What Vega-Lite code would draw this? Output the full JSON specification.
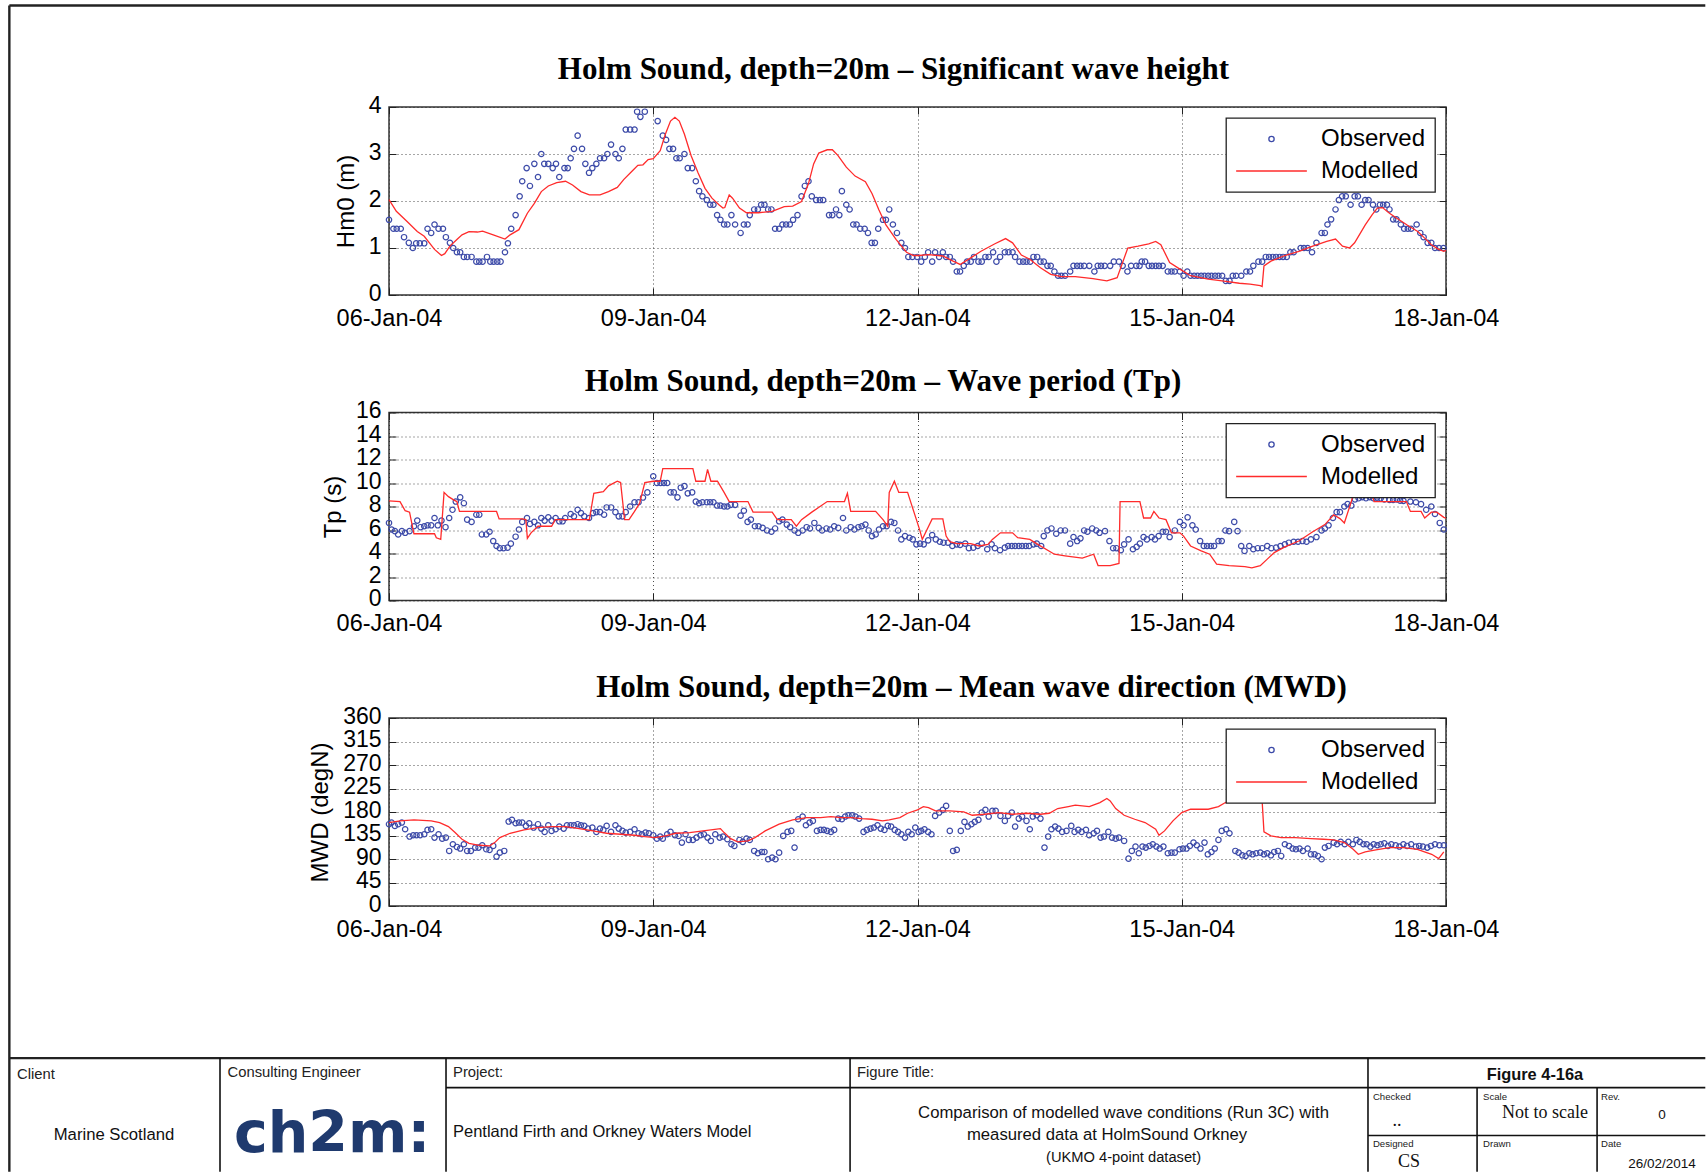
{
"$schema":"https://vega.github.io/schema/vega-lite/v6.json",
"padding":{"left":8,"top":4,"right":0,"bottom":0},
"background":"white",
"config":{
 "view":{"stroke":"#333","strokeWidth":1.5},
 "title":{"font":"Liberation Serif","fontSize":31,"fontWeight":"bold","color":"#000","anchor":"middle","frame":"group","baseline":"alphabetic"},
 "axis":{"labelFont":"Liberation Sans","labelFontSize":23,"labelColor":"#000","titleFont":"Liberation Sans","titleFontSize":24,"titleFontWeight":"normal","titleColor":"#000","domain":false,"tickColor":"#222","tickSize":-7,"gridColor":"#222","gridDash":[1,3],"gridOpacity":0.8,"gridWidth":1,"labelFlush":false,"labelOverlap":false},
 "axisX":{"labelFontSize":23.5},
 "axisY":{"labelOffset":-2},
 "legend":{"orient":"top-right","offset":11,"fillColor":"white","strokeColor":"#222","strokeWidth":1.3,"padding":9,"labelFont":"Liberation Sans","labelFontSize":24,"labelColor":"#000","symbolSize":5000,"clipHeight":24,"rowPadding":8,"labelOffset":13,"symbolStrokeWidth":1.3,"cornerRadius":0}
},
"datasets":{
"obsHs":[{"h":0,"v":1.6},{"h":1.2,"v":1.41},{"h":2.1,"v":1.41},{"h":3.2,"v":1.41},{"h":4.1,"v":1.23},{"h":5.4,"v":1.11},{"h":6.5,"v":1.0},{"h":7.4,"v":1.1},{"h":8.4,"v":1.1},{"h":9.6,"v":1.1},{"h":10.5,"v":1.41},{"h":11.5,"v":1.32},{"h":12.4,"v":1.5},{"h":13.5,"v":1.41},{"h":14.7,"v":1.41},{"h":15.5,"v":1.23},{"h":16.6,"v":1.11},{"h":17.5,"v":1.0},{"h":18.5,"v":0.91},{"h":19.4,"v":0.91},{"h":20.4,"v":0.81},{"h":21.3,"v":0.81},{"h":22.5,"v":0.81},{"h":23.8,"v":0.71},{"h":24.6,"v":0.71},{"h":25.5,"v":0.71},{"h":26.7,"v":0.81},{"h":27.6,"v":0.71},{"h":28.5,"v":0.71},{"h":29.5,"v":0.71},{"h":30.4,"v":0.71},{"h":31.6,"v":0.91},{"h":32.4,"v":1.1},{"h":33.3,"v":1.41},{"h":34.5,"v":1.7},{"h":35.6,"v":2.1},{"h":36.3,"v":2.42},{"h":37.5,"v":2.7},{"h":38.4,"v":2.32},{"h":39.6,"v":2.79},{"h":40.6,"v":2.51},{"h":41.5,"v":3.0},{"h":42.3,"v":2.79},{"h":43.4,"v":2.79},{"h":44.6,"v":2.7},{"h":45.5,"v":2.79},{"h":46.4,"v":2.51},{"h":47.8,"v":2.7},{"h":48.7,"v":2.7},{"h":49.5,"v":2.91},{"h":50.4,"v":3.11},{"h":51.4,"v":3.39},{"h":52.6,"v":3.11},{"h":53.5,"v":2.79},{"h":54.5,"v":2.6},{"h":55.4,"v":2.7},{"h":56.5,"v":2.79},{"h":57.5,"v":2.91},{"h":58.6,"v":2.91},{"h":59.5,"v":3.0},{"h":60.5,"v":3.2},{"h":61.7,"v":3.0},{"h":62.6,"v":2.91},{"h":63.6,"v":3.11},{"h":64.5,"v":3.52},{"h":65.7,"v":3.52},{"h":66.9,"v":3.52},{"h":67.6,"v":3.9},{"h":68.5,"v":3.79},{"h":69.7,"v":3.9},{"h":73.2,"v":3.7},{"h":74.6,"v":3.39},{"h":75.5,"v":3.3},{"h":76.4,"v":3.11},{"h":77.4,"v":3.11},{"h":78.3,"v":2.91},{"h":79.2,"v":2.91},{"h":80.5,"v":3.0},{"h":81.4,"v":2.7},{"h":82.6,"v":2.7},{"h":83.6,"v":2.42},{"h":84.5,"v":2.21},{"h":85.4,"v":2.1},{"h":86.6,"v":2.02},{"h":87.5,"v":1.92},{"h":88.4,"v":1.92},{"h":89.4,"v":1.7},{"h":90.3,"v":1.6},{"h":91.3,"v":1.5},{"h":92.2,"v":1.5},{"h":93.3,"v":1.7},{"h":94.3,"v":1.5},{"h":95.8,"v":1.32},{"h":96.7,"v":1.5},{"h":97.7,"v":1.5},{"h":98.3,"v":1.7},{"h":99.5,"v":1.82},{"h":100.5,"v":1.82},{"h":101.4,"v":1.92},{"h":102.3,"v":1.92},{"h":103.3,"v":1.82},{"h":104.2,"v":1.82},{"h":105.2,"v":1.41},{"h":106.3,"v":1.41},{"h":107.2,"v":1.5},{"h":108.2,"v":1.5},{"h":109.2,"v":1.5},{"h":110.1,"v":1.6},{"h":111.3,"v":1.7},{"h":112.4,"v":2.1},{"h":113.3,"v":2.32},{"h":114.3,"v":2.42},{"h":115.2,"v":2.1},{"h":116.4,"v":2.02},{"h":117.4,"v":2.02},{"h":118.3,"v":2.02},{"h":119.9,"v":1.7},{"h":120.8,"v":1.7},{"h":121.8,"v":1.82},{"h":122.7,"v":1.7},{"h":123.4,"v":2.21},{"h":124.6,"v":1.92},{"h":125.5,"v":1.82},{"h":126.5,"v":1.5},{"h":127.4,"v":1.5},{"h":128.4,"v":1.41},{"h":129.6,"v":1.41},{"h":130.5,"v":1.32},{"h":131.5,"v":1.11},{"h":132.4,"v":1.11},{"h":133.3,"v":1.41},{"h":134.6,"v":1.6},{"h":135.4,"v":1.6},{"h":136.3,"v":1.82},{"h":137.3,"v":1.5},{"h":138.4,"v":1.32},{"h":139.6,"v":1.11},{"h":140.6,"v":1.0},{"h":141.5,"v":0.81},{"h":142.6,"v":0.81},{"h":143.9,"v":0.81},{"h":145,"v":0.71},{"h":146,"v":0.81},{"h":146.9,"v":0.91},{"h":148,"v":0.71},{"h":148.8,"v":0.91},{"h":149.9,"v":0.81},{"h":150.9,"v":0.91},{"h":151.8,"v":0.81},{"h":152.8,"v":0.81},{"h":153.7,"v":0.71},{"h":154.7,"v":0.5},{"h":155.6,"v":0.5},{"h":156.6,"v":0.62},{"h":157.5,"v":0.71},{"h":158.5,"v":0.71},{"h":159.4,"v":0.81},{"h":160.6,"v":0.71},{"h":161.5,"v":0.71},{"h":162.5,"v":0.81},{"h":163.4,"v":0.81},{"h":164.6,"v":0.91},{"h":165.5,"v":0.71},{"h":166.5,"v":0.81},{"h":167.8,"v":0.91},{"h":168.8,"v":0.91},{"h":169.9,"v":0.91},{"h":170.6,"v":0.81},{"h":171.8,"v":0.71},{"h":172.8,"v":0.71},{"h":173.7,"v":0.71},{"h":174.7,"v":0.71},{"h":175.6,"v":0.81},{"h":176.6,"v":0.81},{"h":177.5,"v":0.71},{"h":178.4,"v":0.71},{"h":179.4,"v":0.62},{"h":180.3,"v":0.62},{"h":181.3,"v":0.5},{"h":182.3,"v":0.41},{"h":183.2,"v":0.41},{"h":184.2,"v":0.41},{"h":185.6,"v":0.5},{"h":186.5,"v":0.62},{"h":187.5,"v":0.62},{"h":188.4,"v":0.62},{"h":189.4,"v":0.62},{"h":190.8,"v":0.62},{"h":192.2,"v":0.5},{"h":193.1,"v":0.62},{"h":194,"v":0.62},{"h":195,"v":0.62},{"h":196.5,"v":0.62},{"h":197.5,"v":0.71},{"h":198.9,"v":0.71},{"h":199.9,"v":0.62},{"h":201.2,"v":0.5},{"h":202.2,"v":0.62},{"h":203.6,"v":0.62},{"h":204.5,"v":0.62},{"h":205.1,"v":0.71},{"h":206,"v":0.71},{"h":207,"v":0.62},{"h":207.9,"v":0.62},{"h":208.9,"v":0.62},{"h":209.8,"v":0.62},{"h":210.8,"v":0.62},{"h":212.2,"v":0.5},{"h":213.2,"v":0.5},{"h":214.1,"v":0.5},{"h":215.5,"v":0.5},{"h":216.5,"v":0.41},{"h":217.5,"v":0.5},{"h":218.4,"v":0.41},{"h":219.4,"v":0.41},{"h":220.3,"v":0.41},{"h":221.3,"v":0.41},{"h":222.2,"v":0.41},{"h":223.2,"v":0.41},{"h":224.1,"v":0.41},{"h":225.1,"v":0.41},{"h":226,"v":0.41},{"h":227,"v":0.41},{"h":228,"v":0.3},{"h":229,"v":0.3},{"h":229.9,"v":0.41},{"h":230.8,"v":0.41},{"h":232.2,"v":0.41},{"h":233.6,"v":0.5},{"h":234.6,"v":0.5},{"h":235.5,"v":0.62},{"h":236.9,"v":0.71},{"h":237.9,"v":0.71},{"h":238.9,"v":0.81},{"h":239.8,"v":0.81},{"h":240.8,"v":0.81},{"h":241.7,"v":0.81},{"h":242.7,"v":0.81},{"h":243.6,"v":0.81},{"h":244.6,"v":0.81},{"h":245.6,"v":0.91},{"h":246.5,"v":0.91},{"h":248.4,"v":1.0},{"h":249.3,"v":1.0},{"h":250.3,"v":1.0},{"h":251.5,"v":0.91},{"h":252.7,"v":1.11},{"h":254.1,"v":1.32},{"h":255,"v":1.32},{"h":255.7,"v":1.5},{"h":256.7,"v":1.61},{"h":257.9,"v":1.82},{"h":258.8,"v":2.02},{"h":259.7,"v":2.1},{"h":260.7,"v":2.1},{"h":262,"v":1.92},{"h":263.1,"v":2.1},{"h":264,"v":2.1},{"h":265,"v":1.92},{"h":266,"v":2.02},{"h":266.9,"v":2.02},{"h":268.1,"v":1.92},{"h":269,"v":1.82},{"h":270,"v":1.92},{"h":270.9,"v":1.92},{"h":271.9,"v":1.92},{"h":272.6,"v":1.82},{"h":273.6,"v":1.61},{"h":274.5,"v":1.61},{"h":275.7,"v":1.5},{"h":276.6,"v":1.41},{"h":277.6,"v":1.41},{"h":278.5,"v":1.41},{"h":280,"v":1.5},{"h":281,"v":1.32},{"h":281.9,"v":1.23},{"h":283,"v":1.11},{"h":284,"v":1.11},{"h":285,"v":1.0},{"h":286.1,"v":1.0},{"h":287.3,"v":1.0}],
"modHs":[{"h":0,"v":2.03},{"h":2,"v":1.78},{"h":5,"v":1.56},{"h":7.7,"v":1.35},{"h":9.6,"v":1.25},{"h":12.4,"v":0.97},{"h":14.3,"v":0.84},{"h":15.2,"v":0.88},{"h":16.6,"v":1.04},{"h":18.5,"v":1.18},{"h":19.9,"v":1.28},{"h":21.8,"v":1.35},{"h":24.1,"v":1.34},{"h":25.5,"v":1.36},{"h":28.4,"v":1.28},{"h":31.6,"v":1.19},{"h":33,"v":1.28},{"h":35.4,"v":1.39},{"h":37.7,"v":1.74},{"h":39.6,"v":1.95},{"h":41.5,"v":2.2},{"h":43.4,"v":2.32},{"h":45.7,"v":2.39},{"h":48.1,"v":2.42},{"h":50,"v":2.34},{"h":52.3,"v":2.2},{"h":54.6,"v":2.13},{"h":57.5,"v":2.13},{"h":59.8,"v":2.2},{"h":62.2,"v":2.29},{"h":64,"v":2.46},{"h":66.4,"v":2.65},{"h":67.8,"v":2.76},{"h":69.2,"v":2.77},{"h":70.6,"v":2.88},{"h":72,"v":2.9},{"h":73.9,"v":3.07},{"h":75.3,"v":3.42},{"h":76.7,"v":3.7},{"h":77.9,"v":3.78},{"h":79.1,"v":3.7},{"h":80.5,"v":3.42},{"h":82.3,"v":2.97},{"h":84.2,"v":2.6},{"h":86.1,"v":2.27},{"h":88,"v":2.06},{"h":89.9,"v":1.92},{"h":91,"v":1.85},{"h":91.5,"v":1.86},{"h":92.7,"v":2.13},{"h":93.6,"v":2.06},{"h":95.5,"v":1.85},{"h":97.4,"v":1.75},{"h":100.7,"v":1.75},{"h":104.4,"v":1.78},{"h":107.7,"v":1.88},{"h":110,"v":1.89},{"h":112.4,"v":1.99},{"h":114.3,"v":2.37},{"h":115.7,"v":2.79},{"h":117.1,"v":3.02},{"h":119.4,"v":3.09},{"h":120.8,"v":3.09},{"h":122.3,"v":2.97},{"h":124.6,"v":2.72},{"h":127,"v":2.53},{"h":129.8,"v":2.41},{"h":131.6,"v":2.16},{"h":133.5,"v":1.81},{"h":135.4,"v":1.49},{"h":138.2,"v":1.18},{"h":141,"v":0.91},{"h":142.9,"v":0.84},{"h":144.3,"v":0.84},{"h":147,"v":0.86},{"h":150.9,"v":0.83},{"h":153.7,"v":0.72},{"h":155.6,"v":0.65},{"h":158.5,"v":0.79},{"h":161.3,"v":0.93},{"h":165.1,"v":1.09},{"h":168,"v":1.2},{"h":169.9,"v":1.11},{"h":172.3,"v":0.85},{"h":174.6,"v":0.76},{"h":177.5,"v":0.58},{"h":180.3,"v":0.44},{"h":183.2,"v":0.39},{"h":187,"v":0.39},{"h":191.8,"v":0.35},{"h":195.6,"v":0.3},{"h":198.4,"v":0.37},{"h":201.3,"v":1.0},{"h":204.1,"v":1.04},{"h":207,"v":1.09},{"h":208.9,"v":1.14},{"h":210.3,"v":1.07},{"h":212.7,"v":0.69},{"h":215.5,"v":0.55},{"h":218.4,"v":0.41},{"h":223.2,"v":0.34},{"h":227,"v":0.3},{"h":231.7,"v":0.25},{"h":234.6,"v":0.23},{"h":237.4,"v":0.2},{"h":237.9,"v":0.18},{"h":238.4,"v":0.62},{"h":240.3,"v":0.72},{"h":244.1,"v":0.84},{"h":247.9,"v":0.93},{"h":251.7,"v":1.04},{"h":255.5,"v":1.14},{"h":257.9,"v":1.19},{"h":259.8,"v":1.04},{"h":261.7,"v":1.0},{"h":263.1,"v":1.11},{"h":266,"v":1.49},{"h":267.9,"v":1.71},{"h":269.3,"v":1.85},{"h":270.7,"v":1.86},{"h":272.6,"v":1.74},{"h":274.5,"v":1.64},{"h":277.4,"v":1.49},{"h":280.3,"v":1.35},{"h":282.2,"v":1.21},{"h":284,"v":1.07},{"h":286,"v":0.97},{"h":287.4,"v":0.93},{"h":288,"v":0.95}],
"obsTp":[{"h":0,"v":6.6},{"h":0.7,"v":6.04},{"h":1.6,"v":5.9},{"h":2.5,"v":5.62},{"h":3.5,"v":5.9},{"h":4.4,"v":5.76},{"h":5.6,"v":5.9},{"h":6.8,"v":6.32},{"h":7.7,"v":6.8},{"h":8.6,"v":6.24},{"h":9.6,"v":6.32},{"h":10.5,"v":6.4},{"h":11.5,"v":6.4},{"h":12.4,"v":7.02},{"h":13.3,"v":6.4},{"h":14.3,"v":6.8},{"h":15.4,"v":6.24},{"h":16.4,"v":7.02},{"h":17.3,"v":7.72},{"h":18.2,"v":8.42},{"h":19.4,"v":8.78},{"h":20.4,"v":8.28},{"h":21.3,"v":6.88},{"h":22.5,"v":6.69},{"h":23.8,"v":7.3},{"h":24.6,"v":7.3},{"h":25.3,"v":5.62},{"h":26.5,"v":5.62},{"h":27.4,"v":5.85},{"h":28.4,"v":5.06},{"h":29.3,"v":4.64},{"h":30.2,"v":4.45},{"h":31.2,"v":4.45},{"h":32.3,"v":4.5},{"h":33.2,"v":4.84},{"h":34.5,"v":5.43},{"h":35.4,"v":6.04},{"h":36.3,"v":6.69},{"h":37.6,"v":7.02},{"h":38.4,"v":6.52},{"h":39.6,"v":6.69},{"h":40.6,"v":6.4},{"h":41.5,"v":7.02},{"h":42.4,"v":6.8},{"h":43.4,"v":7.08},{"h":44.3,"v":6.8},{"h":45.4,"v":7.02},{"h":46.4,"v":6.74},{"h":47.3,"v":6.74},{"h":48,"v":7.02},{"h":49.5,"v":7.36},{"h":50.4,"v":7.16},{"h":51.4,"v":7.72},{"h":52.3,"v":7.44},{"h":53.2,"v":7.16},{"h":54.5,"v":7.02},{"h":55.6,"v":7.44},{"h":56.5,"v":7.52},{"h":57.5,"v":7.52},{"h":58.6,"v":7.3},{"h":59.3,"v":7.92},{"h":60.5,"v":7.92},{"h":61.7,"v":7.52},{"h":62.6,"v":7.16},{"h":63.6,"v":7.16},{"h":64.5,"v":7.52},{"h":65.7,"v":8.0},{"h":66.9,"v":8.36},{"h":68,"v":8.36},{"h":69.2,"v":8.76},{"h":70.4,"v":9.2},{"h":72,"v":10.57},{"h":73,"v":10.0},{"h":74,"v":10.0},{"h":74.9,"v":10.0},{"h":75.8,"v":10.0},{"h":76.7,"v":9.2},{"h":77.6,"v":9.2},{"h":78.6,"v":8.78},{"h":79.5,"v":9.6},{"h":80.5,"v":9.73},{"h":81.4,"v":9.12},{"h":82.6,"v":9.2},{"h":83.6,"v":8.42},{"h":84.5,"v":8.28},{"h":85.4,"v":8.36},{"h":86.6,"v":8.36},{"h":87.5,"v":8.36},{"h":88.4,"v":8.36},{"h":89.4,"v":8.08},{"h":90.3,"v":8.08},{"h":91.3,"v":8.0},{"h":92.2,"v":8.0},{"h":93.1,"v":8.14},{"h":94.3,"v":8.14},{"h":95.8,"v":7.22},{"h":96.7,"v":7.64},{"h":97.7,"v":6.69},{"h":98.6,"v":6.88},{"h":99.7,"v":6.32},{"h":100.7,"v":6.32},{"h":101.8,"v":6.18},{"h":103,"v":5.96},{"h":104.2,"v":5.85},{"h":105.2,"v":6.13},{"h":106.3,"v":6.74},{"h":107.2,"v":6.88},{"h":108.4,"v":6.46},{"h":109.3,"v":6.24},{"h":110.5,"v":5.96},{"h":111.5,"v":5.76},{"h":112.7,"v":5.96},{"h":113.8,"v":6.24},{"h":114.7,"v":6.13},{"h":115.9,"v":6.6},{"h":117.1,"v":6.18},{"h":118,"v":5.96},{"h":119.2,"v":6.13},{"h":120.2,"v":6.04},{"h":121.3,"v":6.32},{"h":122.4,"v":6.18},{"h":123.7,"v":7.02},{"h":124.6,"v":5.96},{"h":125.8,"v":6.24},{"h":126.8,"v":6.04},{"h":127.9,"v":6.24},{"h":128.8,"v":6.32},{"h":129.8,"v":6.46},{"h":130.7,"v":5.96},{"h":131.6,"v":5.48},{"h":132.6,"v":5.62},{"h":133.5,"v":6.04},{"h":134.6,"v":6.32},{"h":135.6,"v":6.32},{"h":136.8,"v":6.69},{"h":137.7,"v":6.6},{"h":138.7,"v":5.96},{"h":139.6,"v":5.2},{"h":140.6,"v":5.48},{"h":141.8,"v":5.34},{"h":142.7,"v":5.2},{"h":143.7,"v":4.78},{"h":144.7,"v":4.84},{"h":145.7,"v":4.78},{"h":146.9,"v":5.12},{"h":148,"v":5.57},{"h":149,"v":5.2},{"h":150.1,"v":5.0},{"h":151.1,"v":4.92},{"h":152.3,"v":4.92},{"h":153.5,"v":4.64},{"h":154.7,"v":4.78},{"h":155.6,"v":4.73},{"h":157,"v":4.84},{"h":158,"v":4.45},{"h":159.2,"v":4.5},{"h":160.4,"v":4.64},{"h":161.5,"v":4.84},{"h":163,"v":4.36},{"h":164.2,"v":4.78},{"h":165.1,"v":4.45},{"h":166.5,"v":4.28},{"h":167.8,"v":4.5},{"h":168.7,"v":4.64},{"h":169.7,"v":4.64},{"h":170.6,"v":4.64},{"h":171.6,"v":4.64},{"h":172.5,"v":4.64},{"h":173.5,"v":4.64},{"h":174.4,"v":4.64},{"h":175.6,"v":4.78},{"h":176.5,"v":4.84},{"h":177.7,"v":4.64},{"h":178.4,"v":5.48},{"h":179.4,"v":5.96},{"h":180.5,"v":6.13},{"h":181.8,"v":5.68},{"h":183,"v":5.96},{"h":184.2,"v":5.96},{"h":185.6,"v":4.84},{"h":186.5,"v":5.4},{"h":187.5,"v":5.06},{"h":188.4,"v":5.29},{"h":189.4,"v":5.96},{"h":190.3,"v":5.85},{"h":191.6,"v":6.13},{"h":192.7,"v":5.96},{"h":193.6,"v":5.76},{"h":195.1,"v":5.9},{"h":196.3,"v":5.06},{"h":197.3,"v":4.45},{"h":198.2,"v":4.45},{"h":199.4,"v":4.28},{"h":200.3,"v":4.78},{"h":201.5,"v":5.2},{"h":202.7,"v":4.36},{"h":203.7,"v":4.56},{"h":204.6,"v":4.84},{"h":205.6,"v":5.4},{"h":206.5,"v":5.2},{"h":207.8,"v":5.4},{"h":208.7,"v":5.2},{"h":209.7,"v":5.48},{"h":210.8,"v":5.85},{"h":211.7,"v":5.85},{"h":212.7,"v":5.4},{"h":214.1,"v":5.96},{"h":215.5,"v":6.69},{"h":216.5,"v":6.4},{"h":217.6,"v":7.08},{"h":218.9,"v":6.4},{"h":219.8,"v":6.04},{"h":221,"v":5.06},{"h":222,"v":4.64},{"h":222.9,"v":4.64},{"h":223.9,"v":4.64},{"h":224.8,"v":4.64},{"h":226,"v":5.06},{"h":226.9,"v":5.06},{"h":227.9,"v":5.96},{"h":228.9,"v":5.9},{"h":230.3,"v":6.69},{"h":231.2,"v":5.9},{"h":232.2,"v":4.64},{"h":233.1,"v":4.22},{"h":234.4,"v":4.64},{"h":235.5,"v":4.36},{"h":236.7,"v":4.45},{"h":237.9,"v":4.45},{"h":239.3,"v":4.64},{"h":240.4,"v":4.45},{"h":241.7,"v":4.5},{"h":242.9,"v":4.64},{"h":244.1,"v":4.78},{"h":245.2,"v":4.92},{"h":246.5,"v":5.0},{"h":247.7,"v":5.0},{"h":248.9,"v":5.06},{"h":250,"v":5.0},{"h":251.2,"v":5.2},{"h":252.7,"v":5.4},{"h":254.1,"v":5.96},{"h":255,"v":6.13},{"h":256,"v":6.4},{"h":257.2,"v":7.02},{"h":258.2,"v":7.52},{"h":259.1,"v":7.52},{"h":260.3,"v":8.0},{"h":261.2,"v":8.2},{"h":262.2,"v":8.08},{"h":263.2,"v":8.6},{"h":264.2,"v":8.7},{"h":265.2,"v":8.8},{"h":266.2,"v":8.7},{"h":267.2,"v":8.8},{"h":268.2,"v":8.7},{"h":269.2,"v":8.75},{"h":270.2,"v":8.7},{"h":271.2,"v":8.6},{"h":272.6,"v":8.56},{"h":273.6,"v":8.56},{"h":274.6,"v":8.6},{"h":275.5,"v":8.5},{"h":276.4,"v":8.48},{"h":278.3,"v":8.42},{"h":279.8,"v":8.36},{"h":281.2,"v":8.2},{"h":282.6,"v":7.72},{"h":284,"v":8.0},{"h":285,"v":7.36},{"h":286.3,"v":6.6},{"h":287.4,"v":6.04}],
"modTp":[{"h":0,"v":8.48},{"h":3,"v":8.42},{"h":4.4,"v":7.64},{"h":5.6,"v":7.52},{"h":6.8,"v":5.68},{"h":12.4,"v":5.68},{"h":12.9,"v":5.34},{"h":14.1,"v":5.2},{"h":15,"v":9.2},{"h":16.2,"v":8.84},{"h":17.6,"v":8.56},{"h":18.5,"v":8.42},{"h":19.2,"v":7.58},{"h":29.3,"v":7.58},{"h":30,"v":6.94},{"h":36.3,"v":6.94},{"h":37.3,"v":6.88},{"h":37.7,"v":5.29},{"h":38.7,"v":5.76},{"h":40.6,"v":6.32},{"h":44.3,"v":6.32},{"h":45.3,"v":6.88},{"h":54.6,"v":6.88},{"h":55.8,"v":9.12},{"h":58.4,"v":9.26},{"h":59.8,"v":9.76},{"h":62.2,"v":10.15},{"h":63.1,"v":10.04},{"h":64.2,"v":6.88},{"h":65.4,"v":6.88},{"h":66.9,"v":7.58},{"h":68.3,"v":8.28},{"h":69.7,"v":10.04},{"h":72,"v":10.15},{"h":73.9,"v":10.15},{"h":74.6,"v":11.22},{"h":82.8,"v":11.22},{"h":83.6,"v":10.15},{"h":86.1,"v":10.15},{"h":86.8,"v":11.16},{"h":87.7,"v":10.15},{"h":89.5,"v":10.15},{"h":91.3,"v":9.2},{"h":92.7,"v":8.42},{"h":97.8,"v":8.42},{"h":99.2,"v":7.52},{"h":104.4,"v":7.52},{"h":105.8,"v":6.88},{"h":109.6,"v":6.88},{"h":111,"v":6.32},{"h":112.4,"v":6.88},{"h":115.2,"v":7.52},{"h":119.4,"v":8.42},{"h":124.1,"v":8.42},{"h":124.9,"v":9.12},{"h":125.8,"v":7.58},{"h":132.6,"v":7.58},{"h":134.6,"v":6.88},{"h":135.9,"v":6.32},{"h":136.3,"v":9.2},{"h":137.7,"v":10.15},{"h":138.9,"v":9.2},{"h":141.3,"v":9.2},{"h":142.4,"v":8.14},{"h":143.7,"v":6.88},{"h":144.7,"v":5.9},{"h":145.3,"v":5.2},{"h":146.6,"v":6.04},{"h":148,"v":6.94},{"h":150.9,"v":6.94},{"h":151.8,"v":5.48},{"h":152.8,"v":5.0},{"h":154.7,"v":4.84},{"h":158.5,"v":4.84},{"h":160.8,"v":4.64},{"h":163.2,"v":4.78},{"h":164.4,"v":5.2},{"h":166.6,"v":5.76},{"h":169.9,"v":5.76},{"h":171.3,"v":5.34},{"h":174.6,"v":5.2},{"h":177,"v":4.73},{"h":181.3,"v":3.94},{"h":184.2,"v":3.8},{"h":188.9,"v":3.6},{"h":192,"v":3.94},{"h":193.2,"v":2.97},{"h":196.5,"v":2.97},{"h":198.9,"v":3.16},{"h":199.2,"v":8.42},{"h":204.6,"v":8.42},{"h":205.6,"v":7.02},{"h":207.5,"v":7.02},{"h":208.4,"v":7.58},{"h":209.8,"v":7.02},{"h":211.7,"v":6.88},{"h":213.2,"v":5.76},{"h":215.5,"v":5.76},{"h":216.5,"v":5.48},{"h":218.4,"v":4.64},{"h":221.3,"v":4.22},{"h":223.6,"v":3.94},{"h":225.5,"v":3.1},{"h":228.9,"v":2.97},{"h":233.2,"v":2.88},{"h":235.1,"v":2.77},{"h":237.4,"v":2.97},{"h":239.3,"v":3.52},{"h":241.2,"v":4.08},{"h":244.1,"v":4.56},{"h":247.9,"v":5.06},{"h":251.7,"v":5.85},{"h":255,"v":6.46},{"h":257.4,"v":7.3},{"h":259.1,"v":6.97},{"h":260.3,"v":6.6},{"h":262.2,"v":8.42},{"h":262.7,"v":8.98},{"h":267.9,"v":8.98},{"h":268.4,"v":8.42},{"h":277.2,"v":8.42},{"h":278.3,"v":7.58},{"h":281.2,"v":7.58},{"h":282.2,"v":7.02},{"h":284,"v":7.52},{"h":285.5,"v":7.52},{"h":287.4,"v":7.08},{"h":288,"v":7.0}],
"obsMwd":[{"h":0,"v":156.6},{"h":0.7,"v":159.8},{"h":1.6,"v":153.4},{"h":2.5,"v":156.6},{"h":3.5,"v":159.8},{"h":4.4,"v":147},{"h":5.6,"v":133},{"h":6.6,"v":135.5},{"h":7.5,"v":135.5},{"h":8.5,"v":135.5},{"h":9.6,"v":137.4},{"h":10.5,"v":145.7},{"h":11.5,"v":147},{"h":12.4,"v":131},{"h":13.5,"v":137.4},{"h":14.5,"v":129},{"h":15.5,"v":131},{"h":16.4,"v":105.4},{"h":17.4,"v":118.2},{"h":18.5,"v":113.1},{"h":19.4,"v":110},{"h":20.4,"v":118.2},{"h":21.3,"v":105.4},{"h":22.3,"v":105.4},{"h":23.5,"v":111.8},{"h":24.4,"v":111.8},{"h":25.4,"v":116.3},{"h":26.5,"v":108.6},{"h":27.4,"v":107.4},{"h":28.4,"v":115},{"h":29.3,"v":94.6},{"h":30.2,"v":102.2},{"h":31.4,"v":105.4},{"h":32.6,"v":161.7},{"h":33.5,"v":164.9},{"h":34.5,"v":158.5},{"h":35.4,"v":159.8},{"h":36.3,"v":159.8},{"h":37.3,"v":153.4},{"h":38.2,"v":158.5},{"h":39.4,"v":150.2},{"h":40.6,"v":156.6},{"h":41.5,"v":148.2},{"h":42.4,"v":141.9},{"h":43.4,"v":154.6},{"h":44.3,"v":143.8},{"h":45.4,"v":147},{"h":46.4,"v":152.1},{"h":47.6,"v":148.2},{"h":48.5,"v":154.6},{"h":49.5,"v":154.6},{"h":50.4,"v":154.6},{"h":51.4,"v":156.6},{"h":52.3,"v":154.6},{"h":53.2,"v":153.4},{"h":54.2,"v":148.2},{"h":55.4,"v":150.2},{"h":56.5,"v":141.9},{"h":57.5,"v":148.2},{"h":58.4,"v":145.7},{"h":59.3,"v":153.4},{"h":60.5,"v":141.9},{"h":61.7,"v":154.6},{"h":62.6,"v":148.2},{"h":63.6,"v":143.8},{"h":64.5,"v":140.6},{"h":65.7,"v":141.9},{"h":66.9,"v":147},{"h":68,"v":139.3},{"h":68.9,"v":137.4},{"h":69.9,"v":140.6},{"h":70.8,"v":139.3},{"h":72,"v":135.5},{"h":73,"v":129},{"h":73.9,"v":133},{"h":74.6,"v":129},{"h":75.8,"v":137.4},{"h":76.7,"v":141.9},{"h":77.9,"v":135.5},{"h":78.9,"v":134.2},{"h":79.8,"v":121.4},{"h":80.8,"v":137.4},{"h":81.7,"v":126.5},{"h":82.8,"v":126.5},{"h":83.8,"v":131},{"h":84.9,"v":135.5},{"h":85.8,"v":137.4},{"h":86.8,"v":131},{"h":87.7,"v":124.6},{"h":88.9,"v":137.4},{"h":90.1,"v":131},{"h":91,"v":133},{"h":92.2,"v":127.8},{"h":93.3,"v":118.2},{"h":94.1,"v":115},{"h":95.5,"v":126.5},{"h":96.4,"v":122.7},{"h":97.4,"v":129},{"h":98.3,"v":126.5},{"h":99.5,"v":105.4},{"h":100.5,"v":101},{"h":101.6,"v":103.5},{"h":102.3,"v":103.5},{"h":103.3,"v":89.5},{"h":104.4,"v":92.7},{"h":105.3,"v":89.5},{"h":106.3,"v":102.2},{"h":107.4,"v":134.2},{"h":108.6,"v":141.9},{"h":109.6,"v":143.8},{"h":110.5,"v":111.8},{"h":111.5,"v":166.1},{"h":112.7,"v":171.3},{"h":113.6,"v":154.6},{"h":114.6,"v":159.8},{"h":115.5,"v":163},{"h":116.6,"v":143.8},{"h":117.6,"v":145.7},{"h":118.5,"v":145.7},{"h":119.4,"v":143.8},{"h":120.4,"v":141.9},{"h":121.3,"v":145.7},{"h":122.4,"v":167.4},{"h":123.4,"v":166.1},{"h":124.3,"v":171.3},{"h":125.2,"v":173.8},{"h":126.2,"v":173.8},{"h":127.1,"v":171.3},{"h":128.1,"v":167.4},{"h":129.3,"v":141.9},{"h":130.2,"v":145.7},{"h":131.2,"v":148.2},{"h":132.1,"v":150.2},{"h":133.1,"v":154.6},{"h":134,"v":148.2},{"h":135,"v":145.7},{"h":135.9,"v":153.4},{"h":136.8,"v":152.1},{"h":137.8,"v":145.7},{"h":138.7,"v":141.9},{"h":139.6,"v":137.4},{"h":140.6,"v":131},{"h":141.5,"v":141.9},{"h":142.4,"v":137.4},{"h":143.4,"v":150.2},{"h":144.3,"v":141.9},{"h":145,"v":143.8},{"h":145.9,"v":147},{"h":146.9,"v":141.9},{"h":147.8,"v":137.4},{"h":148.8,"v":172.5},{"h":149.9,"v":178.9},{"h":150.9,"v":184},{"h":151.8,"v":191.7},{"h":152.8,"v":143.8},{"h":153.7,"v":105.4},{"h":154.7,"v":107.4},{"h":155.8,"v":143.8},{"h":156.8,"v":161},{"h":157.7,"v":152.1},{"h":158.7,"v":156.6},{"h":159.6,"v":161},{"h":160.6,"v":164.9},{"h":161.5,"v":178.9},{"h":162.5,"v":184},{"h":163.4,"v":171.3},{"h":164.4,"v":182.1},{"h":165.3,"v":182.1},{"h":166.6,"v":172.5},{"h":167.8,"v":163},{"h":168.7,"v":172.5},{"h":169.7,"v":178.9},{"h":170.6,"v":152.1},{"h":171.6,"v":167.4},{"h":172.5,"v":171.3},{"h":173.7,"v":163},{"h":174.6,"v":147},{"h":175.4,"v":171.3},{"h":176.5,"v":173.8},{"h":177.5,"v":167.4},{"h":178.6,"v":111.8},{"h":179.6,"v":133},{"h":180.5,"v":147},{"h":181.5,"v":152.1},{"h":182.4,"v":148.2},{"h":183.4,"v":141.9},{"h":184.6,"v":143.8},{"h":185.9,"v":153.4},{"h":186.8,"v":141.9},{"h":187.8,"v":145.7},{"h":188.7,"v":141.9},{"h":189.9,"v":145.7},{"h":190.8,"v":135.5},{"h":192,"v":139.3},{"h":192.9,"v":143.8},{"h":193.9,"v":131},{"h":194.8,"v":133},{"h":196,"v":141.9},{"h":197,"v":131},{"h":198,"v":129},{"h":198.9,"v":131},{"h":200.3,"v":124.6},{"h":201.5,"v":90.7},{"h":202.4,"v":105.4},{"h":203.4,"v":113.8},{"h":204.3,"v":101},{"h":205.3,"v":113.8},{"h":206.2,"v":111.8},{"h":207.2,"v":115},{"h":208.1,"v":118.2},{"h":209.1,"v":113.8},{"h":210,"v":110},{"h":211,"v":113.8},{"h":212.2,"v":101},{"h":213.2,"v":102.2},{"h":214.1,"v":102.2},{"h":215.4,"v":108.6},{"h":216.3,"v":110},{"h":217.3,"v":110},{"h":218.2,"v":115},{"h":219.2,"v":121.4},{"h":220.1,"v":116.3},{"h":221.1,"v":110},{"h":222.2,"v":121.4},{"h":223.1,"v":99},{"h":224.1,"v":103.5},{"h":225,"v":110},{"h":226,"v":126.5},{"h":226.9,"v":143.8},{"h":228.1,"v":147},{"h":229,"v":139.3},{"h":230.6,"v":105.4},{"h":231.5,"v":102.2},{"h":232.5,"v":97.1},{"h":233.4,"v":95.8},{"h":234.4,"v":101},{"h":235.3,"v":99},{"h":236.3,"v":101},{"h":237.4,"v":102.2},{"h":238.4,"v":99},{"h":239.3,"v":101},{"h":240.3,"v":97.1},{"h":241.2,"v":103.5},{"h":242.2,"v":105.4},{"h":243.1,"v":95.8},{"h":244.1,"v":118.2},{"h":245.2,"v":115},{"h":246.2,"v":110},{"h":247.1,"v":108.6},{"h":248.1,"v":110},{"h":249,"v":105.4},{"h":250.3,"v":110},{"h":251.2,"v":99},{"h":252.2,"v":99},{"h":253.1,"v":95.8},{"h":254.1,"v":89.5},{"h":255,"v":111.8},{"h":256,"v":115},{"h":257.4,"v":121.4},{"h":258.3,"v":118.2},{"h":259.3,"v":122.7},{"h":260.4,"v":118.2},{"h":261.4,"v":122.7},{"h":262.6,"v":118.2},{"h":263.6,"v":126.5},{"h":264.5,"v":122.7},{"h":265.5,"v":118.2},{"h":266.4,"v":118.2},{"h":267.4,"v":113.8},{"h":268.3,"v":118.2},{"h":269.3,"v":116.3},{"h":270.2,"v":118.2},{"h":271.2,"v":120.1},{"h":272.2,"v":115},{"h":273.1,"v":118.2},{"h":274.3,"v":116.3},{"h":275.3,"v":113.8},{"h":276.4,"v":118.2},{"h":277.4,"v":115},{"h":278.5,"v":118.2},{"h":279.8,"v":113.8},{"h":280.7,"v":115},{"h":281.7,"v":113.8},{"h":282.9,"v":111.8},{"h":283.9,"v":115},{"h":285,"v":118.2},{"h":286.2,"v":116.3},{"h":287.4,"v":116.3}],
"modMwd":[{"h":0,"v":159.8},{"h":3,"v":163},{"h":6.8,"v":164.9},{"h":11.5,"v":163},{"h":13.8,"v":159.8},{"h":16.2,"v":152.1},{"h":18,"v":140.6},{"h":19.9,"v":127.8},{"h":21.8,"v":120.1},{"h":24.6,"v":116.3},{"h":27.4,"v":115},{"h":28.8,"v":121.4},{"h":30.2,"v":131},{"h":33,"v":139.3},{"h":36.8,"v":145.7},{"h":40.6,"v":150.2},{"h":44.3,"v":152.1},{"h":48.1,"v":152.1},{"h":51.8,"v":148.2},{"h":55.6,"v":143.8},{"h":59.3,"v":139.3},{"h":63.1,"v":137.4},{"h":66.9,"v":135.5},{"h":69.7,"v":133},{"h":72.5,"v":131},{"h":75.3,"v":134.2},{"h":78.1,"v":139.3},{"h":81.9,"v":140.6},{"h":85.6,"v":143.8},{"h":90.3,"v":148.2},{"h":91.3,"v":140.6},{"h":93.1,"v":129},{"h":95,"v":122.7},{"h":97.8,"v":124.6},{"h":99.7,"v":131},{"h":102.5,"v":143.8},{"h":106.3,"v":156.6},{"h":110,"v":164.9},{"h":113.8,"v":169.3},{"h":117.6,"v":169.3},{"h":120.4,"v":171.3},{"h":123.2,"v":169.3},{"h":126,"v":169.3},{"h":128.8,"v":167.4},{"h":131.6,"v":166.1},{"h":134.5,"v":163},{"h":136.3,"v":164.9},{"h":139.2,"v":169.3},{"h":141.3,"v":177.6},{"h":144,"v":184},{"h":145.6,"v":190.4},{"h":147,"v":188.5},{"h":148.9,"v":182.1},{"h":152.8,"v":182.1},{"h":156.6,"v":180.2},{"h":158.9,"v":173.8},{"h":162.3,"v":175.7},{"h":166.1,"v":178.9},{"h":169.9,"v":175.7},{"h":173.7,"v":177.6},{"h":177.5,"v":175.7},{"h":179.9,"v":177.6},{"h":182.2,"v":186.6},{"h":185.1,"v":190.4},{"h":187,"v":193},{"h":190.8,"v":190.4},{"h":193.7,"v":198.1},{"h":195.6,"v":205.8},{"h":196.5,"v":201.3},{"h":198,"v":186.6},{"h":200.3,"v":173.8},{"h":203.2,"v":166.1},{"h":206,"v":159.8},{"h":208.9,"v":147},{"h":209.8,"v":135.5},{"h":211.3,"v":143.8},{"h":213.6,"v":163},{"h":216,"v":178.9},{"h":218.4,"v":185.3},{"h":223.2,"v":185.3},{"h":226,"v":190.4},{"h":227.9,"v":198.1},{"h":230,"v":202},{"h":233,"v":203},{"h":236,"v":204},{"h":237.9,"v":201.3},{"h":238.4,"v":141.9},{"h":240.3,"v":134.2},{"h":243.1,"v":131},{"h":246.9,"v":131},{"h":251.2,"v":129},{"h":254.6,"v":127.8},{"h":257.4,"v":126.5},{"h":260.3,"v":121.4},{"h":262.7,"v":108.6},{"h":264.1,"v":99},{"h":266,"v":103.5},{"h":268.9,"v":107.4},{"h":272.6,"v":111.8},{"h":276.4,"v":111.8},{"h":280.2,"v":108.6},{"h":284.1,"v":99},{"h":286,"v":90.7},{"h":287.4,"v":103.5}],
"tblFrame":[{"x1":0.55,"x2":99.9,"y1":0.43,"y2":0.43},{"x1":0.55,"x2":0.55,"y1":0.43,"y2":99.9},{"x1":0.55,"x2":99.9,"y1":90.2,"y2":90.2}],
"tblLines":[{"x1":12.89,"x2":12.89,"y1":90.2,"y2":99.9},{"x1":26.13,"x2":26.13,"y1":90.2,"y2":99.9},{"x1":49.8,"x2":49.8,"y1":90.2,"y2":99.9},{"x1":80.14,"x2":80.14,"y1":90.2,"y2":99.9},{"x1":86.53,"x2":86.53,"y1":92.72,"y2":99.9},{"x1":93.56,"x2":93.56,"y1":92.72,"y2":99.9},{"x1":26.13,"x2":99.9,"y1":92.72,"y2":92.72},{"x1":80.14,"x2":99.9,"y1":96.8,"y2":96.8}],
"tblHead":[{"x":1.0,"y":91.6,"t":"Client"},{"x":13.33,"y":91.47,"t":"Consulting Engineer"},{"x":26.54,"y":91.47,"t":"Project:"},{"x":50.2,"y":91.47,"t":"Figure Title:"}],
"tblSmall":[{"x":80.43,"y":93.52,"t":"Checked"},{"x":86.88,"y":93.52,"t":"Scale"},{"x":93.79,"y":93.52,"t":"Rev."},{"x":80.43,"y":97.53,"t":"Designed"},{"x":86.88,"y":97.53,"t":"Drawn"},{"x":93.79,"y":97.53,"t":"Date"}],
"tblBodyC":[{"x":6.68,"y":96.8,"t":"Marine Scotland"},{"x":65.82,"y":94.85,"t":"Comparison of modelled wave conditions (Run 3C) with"},{"x":64.85,"y":96.8,"t":"measured data  at HolmSound Orkney"}],
"tblBodyL":[{"x":26.54,"y":96.5,"t":"Pentland Firth and Orkney Waters Model"}],
"tblSub":[{"x":65.82,"y":98.72,"t":"(UKMO 4-point dataset)"}],
"tblSerif":[{"x":90.51,"y":94.85,"t":"Not to scale"},{"x":82.54,"y":99.06,"t":"CS"},{"x":81.84,"y":95.57,"t":".."}],
"tblBold":[{"x":89.92,"y":91.6,"t":"Figure 4-16a"}],
"tblNum":[{"x":97.36,"y":95.06,"t":"0"},{"x":97.36,"y":99.23,"t":"26/02/2014"}],
"tblLogo":[{"x":13.71,"y":98.2,"t":"ch2m:"}]
},
"resolve":{"scale":{"color":"independent","shape":"independent"}},
"bounds":"flush",
"spacing":117.5,
"vconcat":[
{"width":1057,"height":188,
 "title":{"text":"Holm Sound, depth=20m – Significant wave height","dx":-24,"offset":8.5},
 "layer":[
  {"data":{"name":"obsHs"},"mark":{"type":"point","filled":false,"size":5184,"strokeWidth":1.2,"opacity":1},
   "encoding":{
    "x":{"field":"h","type":"quantitative","scale":{"domain":[0,288],"nice":false,"zero":false},"axis":{"values":[0,72,144,216,288],"labelExpr":"timeFormat(datetime(2004,0,6+datum.value/24),'%d-%b-%y')","title":null,"grid":true,"labelPadding":18}},
    "y":{"field":"v","type":"quantitative","scale":{"domain":[0,4],"nice":false,"zero":false},"axis":{"values":[0,1,2,3,4],"title":"Hm0 (m)","titlePadding":10,"grid":true,"labelPadding":15}},
    "color":{"datum":"Observed","type":"nominal","scale":{"domain":["Observed","Modelled"],"range":["#3c4aa8","#ff2b2b"]},"legend":{"title":null}},
    "shape":{"datum":"Observed","type":"nominal","scale":{"domain":["Observed","Modelled"],"range":["M-0.075,0A0.075,0.075,0,1,1,0.075,0A0.075,0.075,0,1,1,-0.075,0Z","M-1,0L1,0"]},"legend":{"title":null}}
   }},
  {"data":{"name":"modHs"},"mark":{"type":"line","strokeWidth":1.3},
   "encoding":{
    "x":{"field":"h","type":"quantitative","axis":{"orient":"top","values":[0,72,144,216,288],"labels":false,"grid":false,"title":null}},
    "y":{"field":"v","type":"quantitative","axis":{"orient":"right","values":[0,1,2,3,4],"labels":false,"grid":false,"title":null}},
    "color":{"datum":"Modelled","type":"nominal"}
   }}
 ],
 "resolve":{"axis":{"x":"independent","y":"independent"}}
},
{"width":1057,"height":188,
 "title":{"text":"Holm Sound, depth=20m – Wave period (Tp)","dx":-34.5,"offset":1.5},
 "layer":[
  {"data":{"name":"obsTp"},"mark":{"type":"point","filled":false,"size":5184,"strokeWidth":1.2,"opacity":1},
   "encoding":{
    "x":{"field":"h","type":"quantitative","scale":{"domain":[0,288],"nice":false,"zero":false},"axis":{"values":[0,72,144,216,288],"labelExpr":"timeFormat(datetime(2004,0,6+datum.value/24),'%d-%b-%y')","title":null,"grid":true,"labelPadding":18}},
    "y":{"field":"v","type":"quantitative","scale":{"domain":[0,16],"nice":false,"zero":false},"axis":{"values":[0,2,4,6,8,10,12,14,16],"title":"Tp (s)","titlePadding":10,"grid":true,"labelPadding":15}},
    "color":{"datum":"Observed","type":"nominal","scale":{"domain":["Observed","Modelled"],"range":["#3c4aa8","#ff2b2b"]},"legend":{"title":null}},
    "shape":{"datum":"Observed","type":"nominal","scale":{"domain":["Observed","Modelled"],"range":["M-0.075,0A0.075,0.075,0,1,1,0.075,0A0.075,0.075,0,1,1,-0.075,0Z","M-1,0L1,0"]},"legend":{"title":null}}
   }},
  {"data":{"name":"modTp"},"mark":{"type":"line","strokeWidth":1.3},
   "encoding":{
    "x":{"field":"h","type":"quantitative","axis":{"orient":"top","values":[0,72,144,216,288],"labels":false,"grid":false,"title":null}},
    "y":{"field":"v","type":"quantitative","axis":{"orient":"right","values":[0,2,4,6,8,10,12,14,16],"labels":false,"grid":false,"title":null}},
    "color":{"datum":"Modelled","type":"nominal"}
   }}
 ],
 "resolve":{"axis":{"x":"independent","y":"independent"}}
},
{"width":1057,"height":188,
 "title":{"text":"Holm Sound, depth=20m – Mean wave direction (MWD)","dx":54,"offset":1},
 "layer":[
  {"data":{"name":"obsMwd"},"mark":{"type":"point","filled":false,"size":5184,"strokeWidth":1.2,"opacity":1},
   "encoding":{
    "x":{"field":"h","type":"quantitative","scale":{"domain":[0,288],"nice":false,"zero":false},"axis":{"values":[0,72,144,216,288],"labelExpr":"timeFormat(datetime(2004,0,6+datum.value/24),'%d-%b-%y')","title":null,"grid":true,"labelPadding":18}},
    "y":{"field":"v","type":"quantitative","scale":{"domain":[0,360],"nice":false,"zero":false},"axis":{"values":[0,45,90,135,180,225,270,315,360],"title":"MWD (degN)","titlePadding":10,"grid":true,"labelPadding":15}},
    "color":{"datum":"Observed","type":"nominal","scale":{"domain":["Observed","Modelled"],"range":["#3c4aa8","#ff2b2b"]},"legend":{"title":null}},
    "shape":{"datum":"Observed","type":"nominal","scale":{"domain":["Observed","Modelled"],"range":["M-0.075,0A0.075,0.075,0,1,1,0.075,0A0.075,0.075,0,1,1,-0.075,0Z","M-1,0L1,0"]},"legend":{"title":null}}
   }},
  {"data":{"name":"modMwd"},"mark":{"type":"line","strokeWidth":1.3},
   "encoding":{
    "x":{"field":"h","type":"quantitative","axis":{"orient":"top","values":[0,72,144,216,288],"labels":false,"grid":false,"title":null}},
    "y":{"field":"v","type":"quantitative","axis":{"orient":"right","values":[0,45,90,135,180,225,270,315,360],"labels":false,"grid":false,"title":null}},
    "color":{"datum":"Modelled","type":"nominal"}
   }}
 ],
 "resolve":{"axis":{"x":"independent","y":"independent"}}
},
{"width":1057,"height":149.5,
 "view":{"stroke":null},
 "encoding":{
  "x":{"field":"x","type":"quantitative","scale":{"domain":[22.79,84.71],"nice":false,"zero":false},"axis":null},
  "y":{"field":"y","type":"quantitative","scale":{"domain":[87.25,100],"nice":false,"zero":false,"reverse":true},"axis":null},
  "text":{"field":"t"}
 },
 "layer":[
  {"data":{"name":"tblFrame"},"mark":{"type":"rule","stroke":"#222","strokeWidth":2.4},"encoding":{"x":{"field":"x1","type":"quantitative"},"x2":{"field":"x2"},"y":{"field":"y1","type":"quantitative"},"y2":{"field":"y2"},"text":null}},
  {"data":{"name":"tblLines"},"mark":{"type":"rule","stroke":"#111","strokeWidth":1.6},"encoding":{"x":{"field":"x1","type":"quantitative"},"x2":{"field":"x2"},"y":{"field":"y1","type":"quantitative"},"y2":{"field":"y2"},"text":null}},
  {"data":{"name":"tblHead"},"mark":{"type":"text","align":"left","baseline":"middle","font":"Liberation Sans","fontSize":14.8,"color":"#222"}},
  {"data":{"name":"tblSmall"},"mark":{"type":"text","align":"left","baseline":"middle","font":"Liberation Sans","fontSize":9.6,"color":"#222"}},
  {"data":{"name":"tblBodyC"},"mark":{"type":"text","align":"center","baseline":"middle","font":"Liberation Sans","fontSize":16.7,"color":"#111"}},
  {"data":{"name":"tblBodyL"},"mark":{"type":"text","align":"left","baseline":"middle","font":"Liberation Sans","fontSize":16.5,"color":"#111"}},
  {"data":{"name":"tblSub"},"mark":{"type":"text","align":"center","baseline":"middle","font":"Liberation Sans","fontSize":14.7,"color":"#111"}},
  {"data":{"name":"tblSerif"},"mark":{"type":"text","align":"center","baseline":"middle","font":"Liberation Serif","fontSize":18,"color":"#111"}},
  {"data":{"name":"tblBold"},"mark":{"type":"text","align":"center","baseline":"middle","font":"Liberation Sans","fontSize":16.4,"fontWeight":"bold","color":"#111"}},
  {"data":{"name":"tblNum"},"mark":{"type":"text","align":"center","baseline":"middle","font":"Liberation Sans","fontSize":13.5,"color":"#111"}},
  {"data":{"name":"tblLogo"},"mark":{"type":"text","align":"left","baseline":"alphabetic","font":"DejaVu Sans","fontSize":57,"fontWeight":"bold","color":"#1f3a6e"}}
 ]
}
]
}
